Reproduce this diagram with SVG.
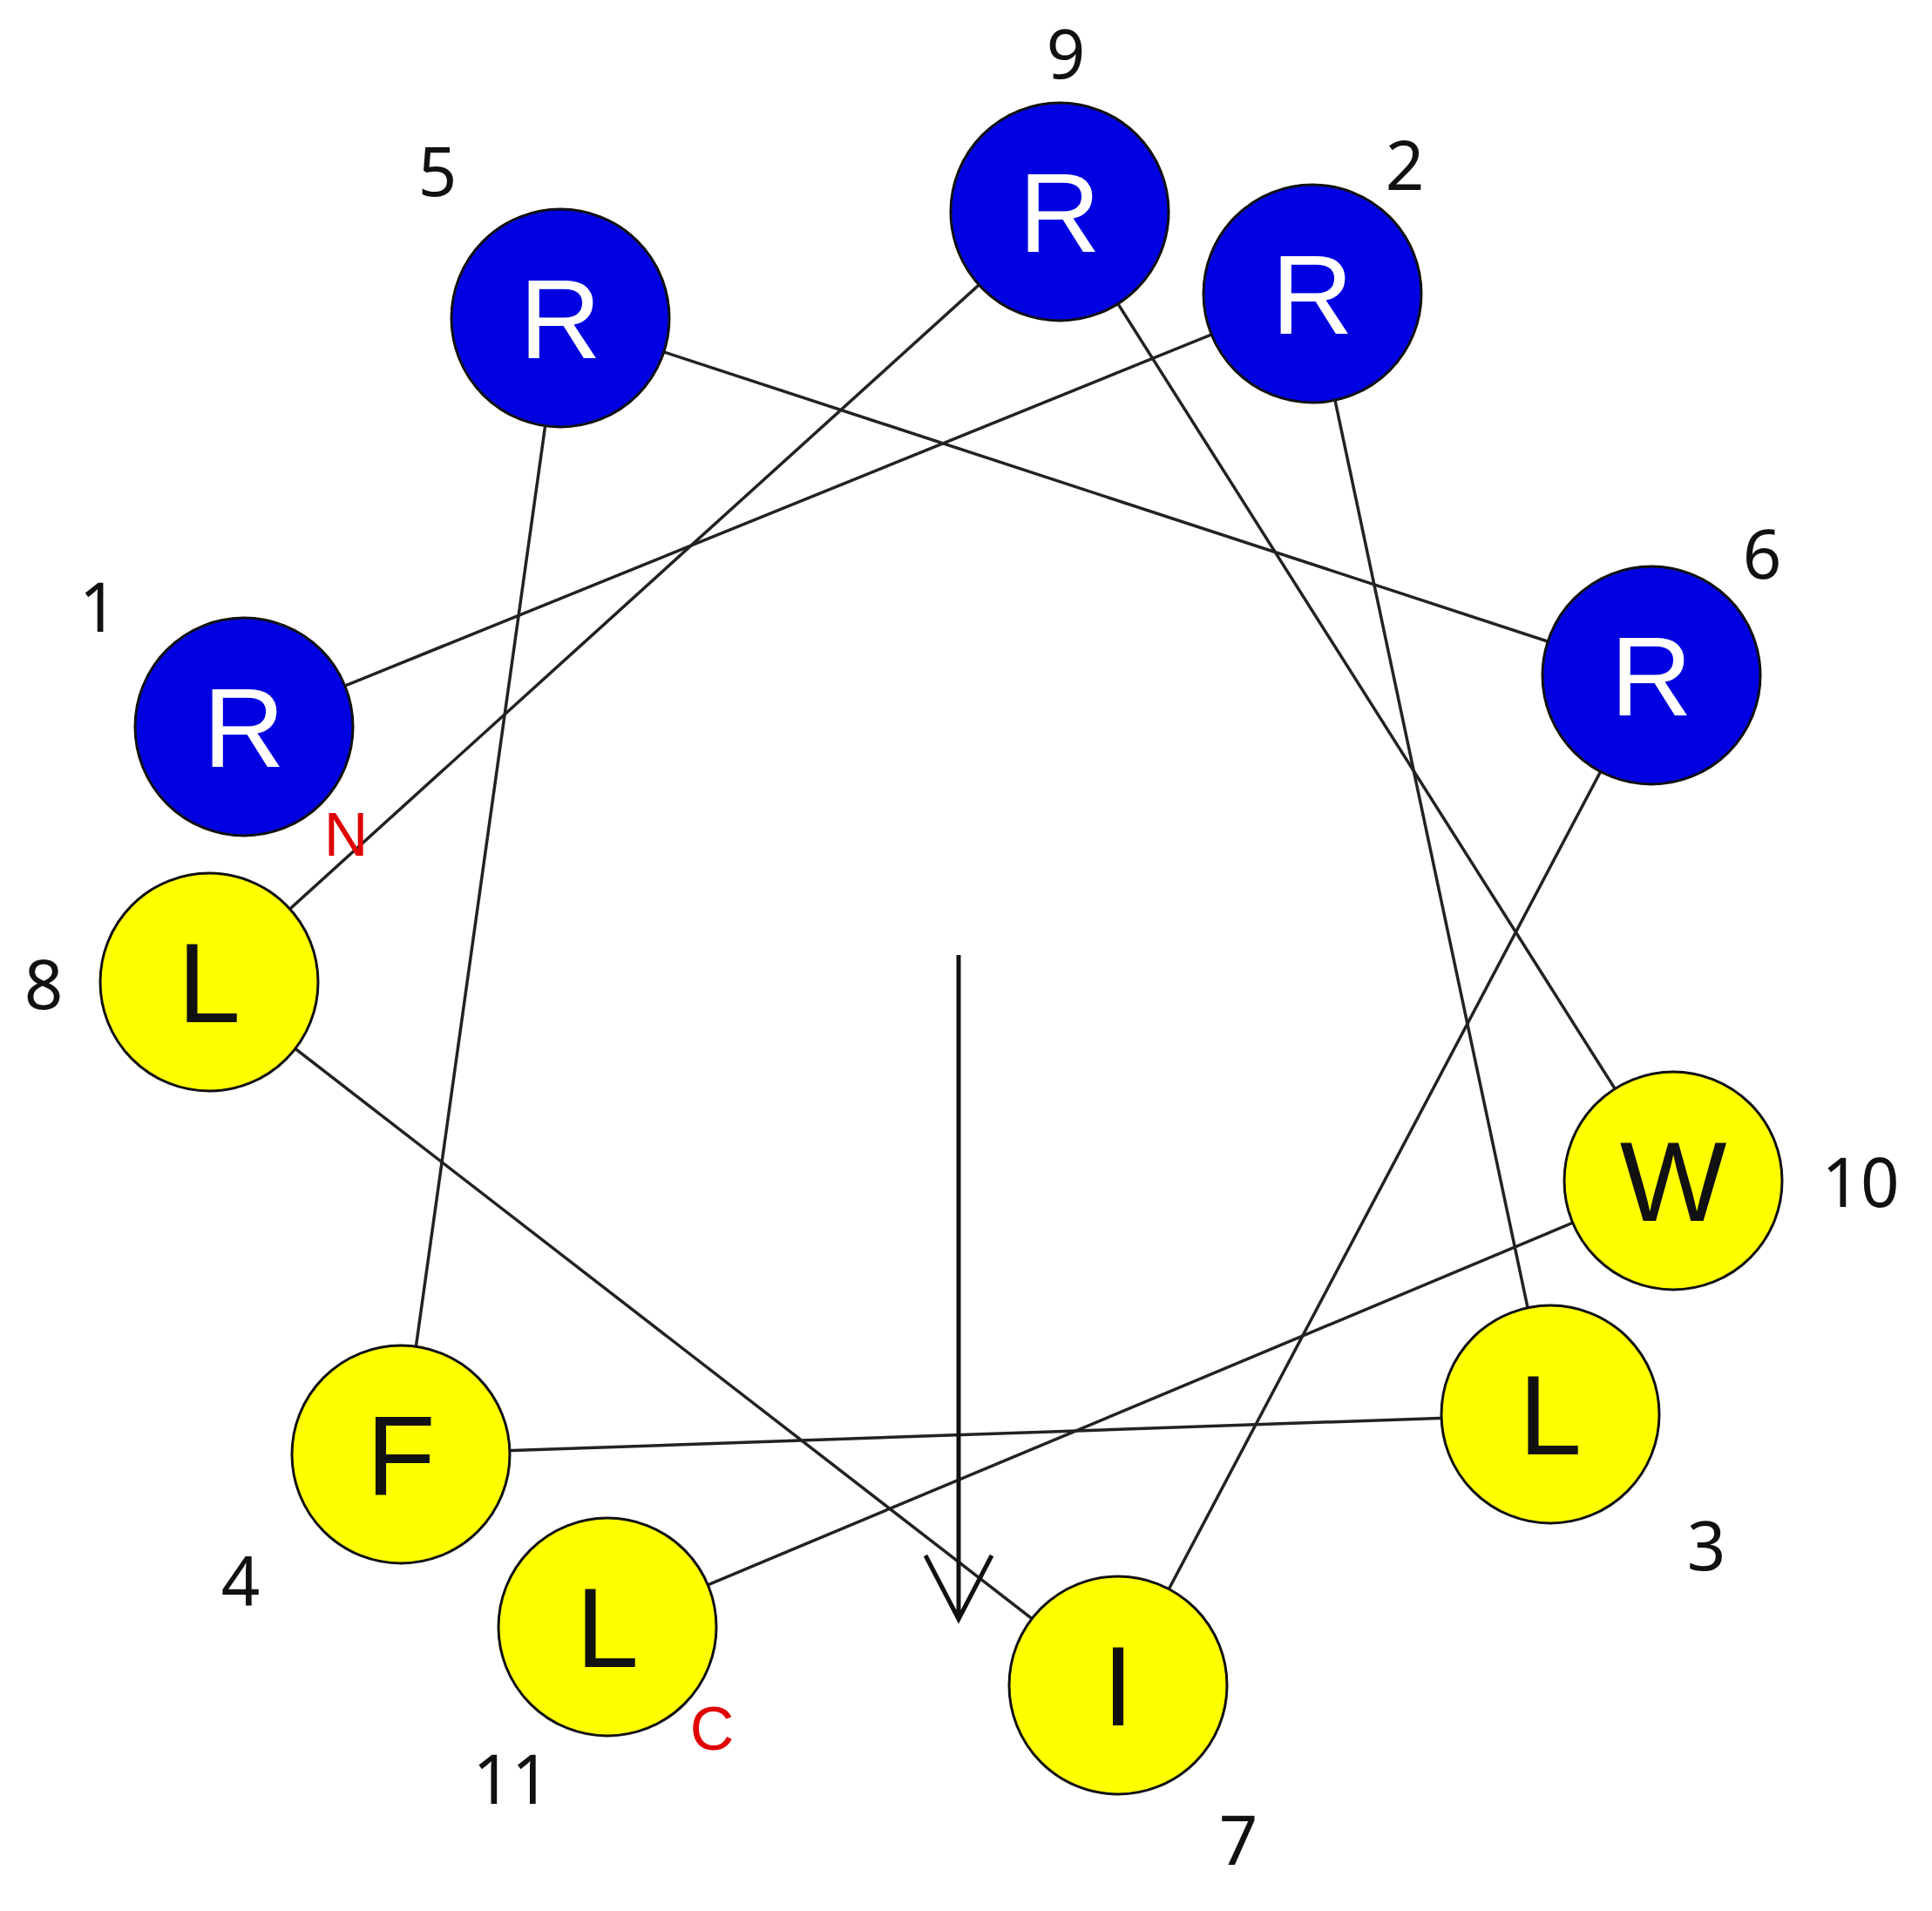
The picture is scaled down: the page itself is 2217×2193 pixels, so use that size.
<svg xmlns="http://www.w3.org/2000/svg" width="2217" height="2193" viewBox="0 0 2217 2193">
<style>
.b{fill:#0000e0;stroke:#111;stroke-width:3}
.y{fill:#ffff00;stroke:#111;stroke-width:3}
.lt{font-family:"Liberation Sans",Arial,sans-serif;font-size:130px;text-anchor:middle}
.n{font-family:"Noto Sans","Liberation Sans",sans-serif;font-size:78px;text-anchor:middle;fill:#111}
.r{font-family:"Liberation Sans",Arial,sans-serif;font-size:70px;text-anchor:middle;fill:#e00000}
line{stroke:#222;stroke-width:3.5}
</style>
<rect width="2217" height="2193" fill="#fff"/>
<g id="connectors">
<line x1="280" y1="834" x2="1506" y2="337"/>
<line x1="1506" y1="337" x2="1779" y2="1623"/>
<line x1="1779" y1="1623" x2="460" y2="1669"/>
<line x1="460" y1="1669" x2="643" y2="365"/>
<line x1="643" y1="365" x2="1895" y2="775"/>
<line x1="1895" y1="775" x2="1283" y2="1934"/>
<line x1="1283" y1="1934" x2="240" y2="1127"/>
<line x1="240" y1="1127" x2="1216" y2="243"/>
<line x1="1216" y1="243" x2="1920" y2="1355"/>
<line x1="1920" y1="1355" x2="697" y2="1867"/>
<g id="arrow" fill="none" stroke="#111" stroke-width="5">
<path d="M1100 1096V1858M1062 1785L1100 1858L1138 1785"/>
</g>
</g>
<g id="n1"><circle class="b" cx="280" cy="834" r="125"/><text class="lt" x="280" y="880" fill="#fff">R</text><text class="n" x="113" y="725">1</text><text class="r" x="397" y="982">N</text></g>
<g id="n5"><circle class="b" cx="643" cy="365" r="125"/><text class="lt" x="643" y="411" fill="#fff">R</text><text class="n" x="502" y="225">5</text></g>
<g id="n9"><circle class="b" cx="1216" cy="243" r="125"/><text class="lt" x="1216" y="289" fill="#fff">R</text><text class="n" x="1223" y="90">9</text></g>
<g id="n2"><circle class="b" cx="1506" cy="337" r="125"/><text class="lt" x="1506" y="383" fill="#fff">R</text><text class="n" x="1612" y="218">2</text></g>
<g id="n6"><circle class="b" cx="1895" cy="775" r="125"/><text class="lt" x="1895" y="821" fill="#fff">R</text><text class="n" x="2022" y="664">6</text></g>
<g id="n8"><circle class="y" cx="240" cy="1127" r="125"/><text class="lt" x="240" y="1173" fill="#111">L</text><text class="n" x="50" y="1158">8</text></g>
<g id="n10"><circle class="y" cx="1920" cy="1355" r="125"/><text class="lt" x="1920" y="1401" fill="#111">W</text><text class="n" x="2135" y="1385">10</text></g>
<g id="n3"><circle class="y" cx="1779" cy="1623" r="125"/><text class="lt" x="1779" y="1669" fill="#111">L</text><text class="n" x="1958" y="1802">3</text></g>
<g id="n4"><circle class="y" cx="460" cy="1669" r="125"/><text class="lt" x="460" y="1715" fill="#111">F</text><text class="n" x="276" y="1843">4</text></g>
<g id="n11"><circle class="y" cx="697" cy="1867" r="125"/><text class="lt" x="697" y="1913" fill="#111">L</text><text class="n" x="587" y="2070">11</text><text class="r" x="817" y="2008">C</text></g>
<g id="n7"><circle class="y" cx="1283" cy="1934" r="125"/><text class="lt" x="1283" y="1980" fill="#111">I</text><text class="n" x="1421" y="2140">7</text></g>
</svg>
